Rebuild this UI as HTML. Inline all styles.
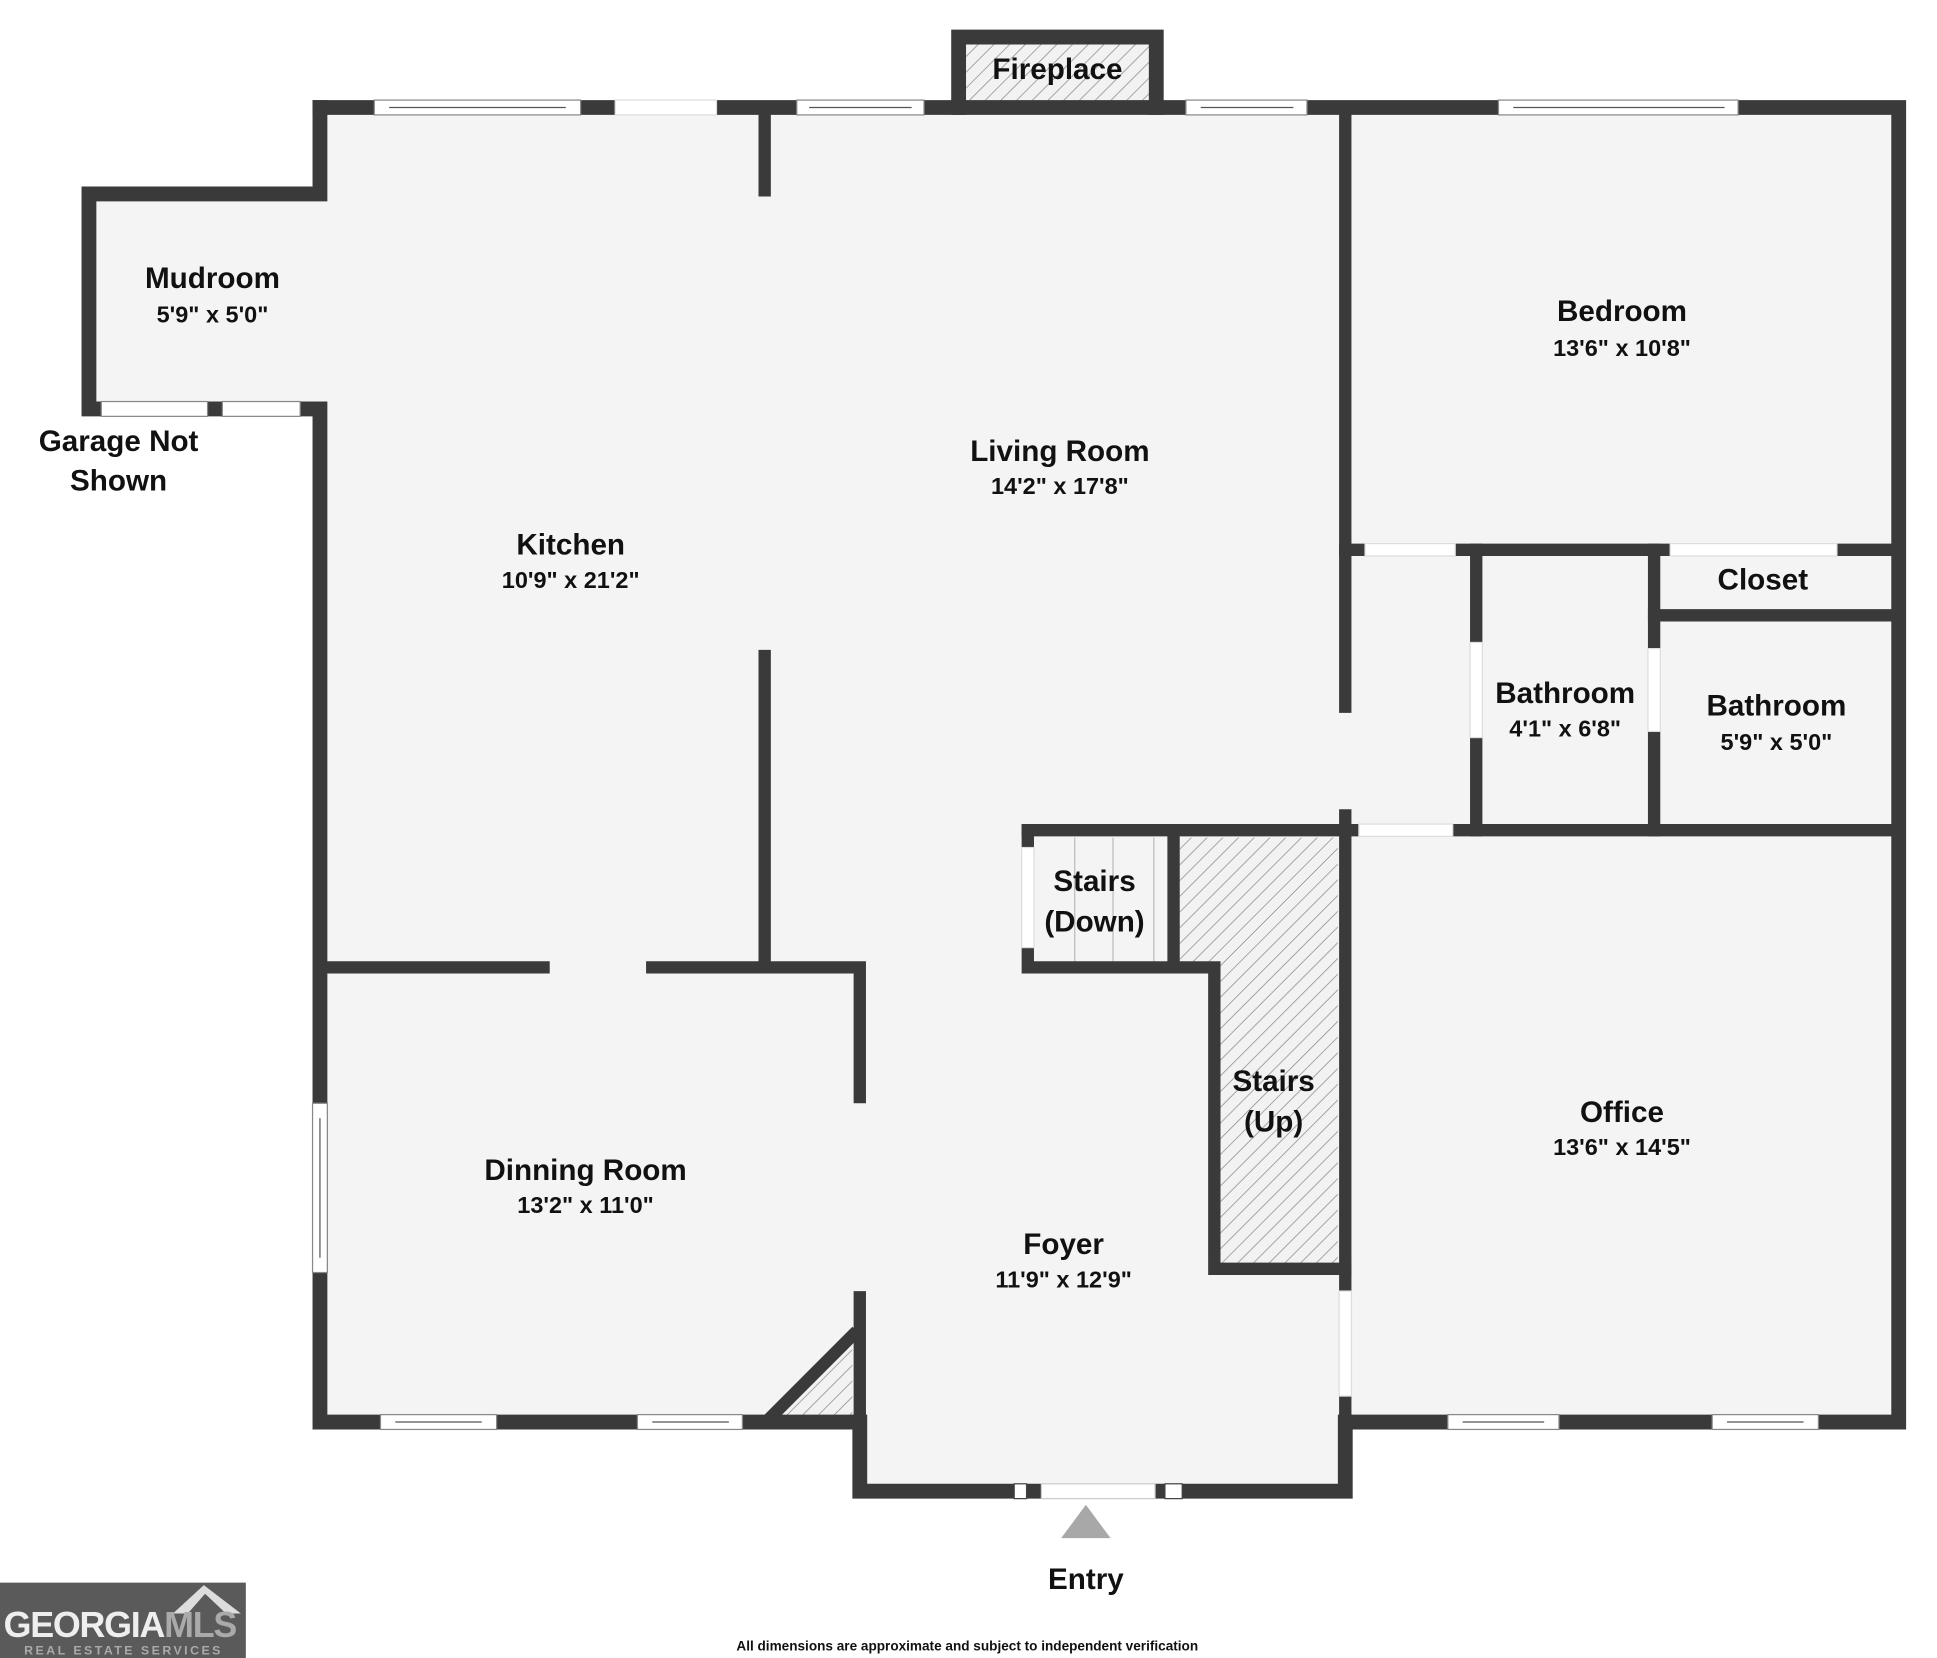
<!DOCTYPE html>
<html><head><meta charset="utf-8"><style>
html,body{margin:0;padding:0;background:#fff;}
svg{display:block;}
text{font-family:"Liberation Sans",sans-serif;font-weight:bold;fill:#111;text-anchor:middle;}
</style></head><body>
<svg width="1937" height="1658" viewBox="0 0 1568 1342" preserveAspectRatio="none" xmlns="http://www.w3.org/2000/svg">
<defs>
<pattern id="h" width="9" height="9" patternUnits="userSpaceOnUse" patternTransform="rotate(45)">
<rect width="9" height="9" fill="#f2f2f2"/><line x1="0" y1="0" x2="0" y2="9" stroke="#8a8a8a" stroke-width="1.2"/>
</pattern>
</defs>
<g fill="#f4f4f4">
<rect x="259" y="87" width="1278" height="1064"/>
<rect x="72" y="157" width="190" height="174"/>
<rect x="696" y="1100" width="393" height="107"/>
</g>
<rect x="0" y="1151" width="690" height="60" fill="#fff"/>
<rect x="1095" y="1157" width="460" height="60" fill="#fff"/>
<rect x="0" y="337" width="253" height="810" fill="#fff"/>
<rect x="775" y="30" width="162" height="57" fill="url(#h)"/>
<path d="M955 678H1083V1027H988V785H955Z" fill="url(#h)"/>
<path d="M627 1147L690 1084V1147Z" fill="url(#h)"/>
<g stroke="#bbb" stroke-width="1"><line x1="870" y1="678" x2="870" y2="783"/><line x1="901" y1="678" x2="901" y2="783"/><line x1="934" y1="678" x2="934" y2="783"/></g>
<g stroke="#3a3a3a" fill="none" stroke-linecap="square">
<g stroke-width="12">
<path d="M259 87H1537V1151H1095"/>
<path d="M259 87V157H72V331H259V1151H690"/>
<path d="M696 1151V1207H1089V1151"/>
<path d="M776 87V30H936V87"/>
</g>
<g stroke-width="10">
<path d="M619 87V154"/>
<path d="M619 531V783"/>
<path d="M259 783H440"/>
<path d="M528 783H696V888"/>
<path d="M696 1050V1151"/>
<path d="M625 1146L690 1081"/>
<path d="M1089 87V572"/>
<path d="M1089 660V1151"/>
<path d="M832 672H1089"/>
<path d="M832 672V783H983V1027H1089"/>
<path d="M950 672V783"/>
<path d="M1089 445H1537"/>
<path d="M1089 672H1537"/>
<path d="M1195 445V672"/>
<path d="M1339 445V672"/>
<path d="M1339 498H1537"/>
</g>
</g>
<g fill="#fff" stroke="#888" stroke-width="1">
<rect x="303" y="81" width="167" height="12"/>
<rect x="498" y="81" width="82" height="12" stroke="#ddd"/>
<rect x="645" y="81" width="103" height="12"/>
<rect x="960" y="81" width="98" height="12"/>
<rect x="1213" y="81" width="194" height="12"/>
<rect x="82" y="325" width="86" height="12"/>
<rect x="180" y="325" width="63" height="12"/>
<rect x="253" y="893" width="12" height="137"/>
<rect x="308" y="1145" width="94" height="12"/>
<rect x="516" y="1145" width="85" height="12"/>
<rect x="1172" y="1145" width="90" height="12"/>
<rect x="1386" y="1145" width="86" height="12"/>
<rect x="843" y="1201" width="92" height="12" stroke="#ccc"/>
<rect x="1105" y="440" width="73" height="10" stroke="#ddd"/>
<rect x="1352" y="440" width="135" height="10" stroke="#ddd"/>
<rect x="1100" y="667" width="76" height="10" stroke="#ddd"/>
<rect x="1190" y="520" width="10" height="77" stroke="#ddd"/>
<rect x="1334" y="525" width="10" height="67" stroke="#ddd"/>
<rect x="827" y="686" width="10" height="81" stroke="#ddd"/>
<rect x="1084" y="1045" width="10" height="85" stroke="#ddd"/>
</g>
<g stroke="#555" stroke-width="1">
<line x1="315" y1="87" x2="458" y2="87"/><line x1="655" y1="87" x2="738" y2="87"/>
<line x1="972" y1="87" x2="1047" y2="87"/><line x1="1225" y1="87" x2="1396" y2="87"/>
<line x1="320" y1="1151" x2="390" y2="1151"/><line x1="528" y1="1151" x2="590" y2="1151"/>
<line x1="1184" y1="1151" x2="1250" y2="1151"/><line x1="1398" y1="1151" x2="1460" y2="1151"/>
<line x1="259" y1="905" x2="259" y2="1018"/>
</g>
<g fill="#fff" stroke="#444" stroke-width="1"><rect x="821" y="1201" width="10" height="12"/><rect x="943" y="1201" width="14" height="12"/></g>
<polygon points="879,1218 859,1245 899,1245" fill="#a8a8a8"/>
<g font-size="24">
<text x="856" y="64">Fireplace</text>
<text x="172" y="233">Mudroom</text>
<text x="1313" y="260">Bedroom</text>
<text x="858" y="373">Living Room</text>
<text x="462" y="449">Kitchen</text>
<text x="1427" y="477">Closet</text>
<text x="1267" y="569">Bathroom</text>
<text x="1438" y="579">Bathroom</text>
<text x="886" y="721">Stairs</text>
<text x="886" y="754">(Down)</text>
<text x="1031" y="883">Stairs</text>
<text x="1031" y="916">(Up)</text>
<text x="1313" y="908">Office</text>
<text x="474" y="955">Dinning Room</text>
<text x="861" y="1015">Foyer</text>
<text x="879" y="1286">Entry</text>
<text x="96" y="365">Garage Not</text>
<text x="96" y="397">Shown</text>
</g>
<g font-size="19">
<text x="172" y="261">5'9" x 5'0"</text>
<text x="1313" y="288">13'6" x 10'8"</text>
<text x="858" y="400">14'2" x 17'8"</text>
<text x="462" y="476">10'9" x 21'2"</text>
<text x="1267" y="596">4'1" x 6'8"</text>
<text x="1438" y="607">5'9" x 5'0"</text>
<text x="1313" y="935">13'6" x 14'5"</text>
<text x="474" y="982">13'2" x 11'0"</text>
<text x="861" y="1042">11'9" x 12'9"</text>
</g>
<text x="783" y="1336" font-size="11">All dimensions are approximate and subject to independent verification</text>
<rect x="0" y="1281" width="199" height="61" fill="#5a5a5a"/>
<polygon points="140,1306 165,1283 195,1306 183,1306 166,1290 152,1306" fill="#ddd"/>
<text x="97" y="1325" font-size="29" font-weight="normal" style="fill:#eee;letter-spacing:-1px">GEORGIA<tspan style="fill:#aaa">MLS</tspan></text>
<text x="100" y="1339" font-size="10" style="fill:#aaa;letter-spacing:2px">REAL ESTATE SERVICES</text>
</svg>
</body></html>
